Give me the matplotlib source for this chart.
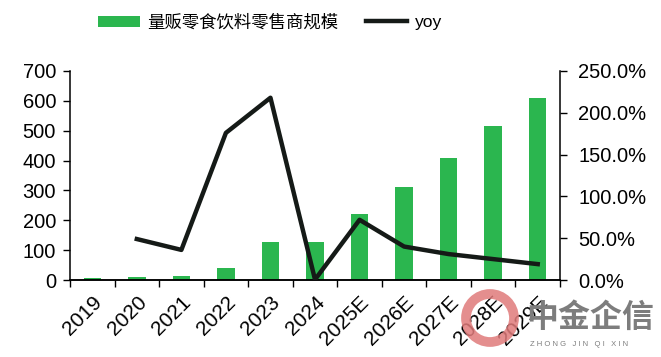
import matplotlib
matplotlib.use("Agg")
import matplotlib.pyplot as plt
import numpy as np
from matplotlib.ticker import FuncFormatter, MultipleLocator
from matplotlib.patches import Ellipse

plt.rcParams['font.family'] = ['Liberation Sans', 'Noto Sans CJK SC', 'DejaVu Sans']

years = ['2019', '2020', '2021', '2022', '2023', '2024', '2025E', '2026E', '2027E', '2028E', '2029E']
scale = [6, 10, 14, 39, 128, 128, 222, 311, 410, 515, 611]
yoy = [np.nan, 49, 36, 176, 218, 0.5, 72, 40, 31, 25, 19]

bar_label = '量贩零食饮料零售商规模'
line_label = 'yoy'

fig = plt.figure(figsize=(6.61, 3.57), dpi=100)
ax = fig.add_axes([70/661, 1-280/357, 490/661, 209/357])
ax2 = ax.twinx()

x = np.arange(len(years))
bars = ax.bar(x, scale, width=0.39, color='#2bb64f', label=bar_label, zorder=2)
line, = ax2.plot(x, yoy, color='#151a17', lw=3.2, label=line_label, zorder=3)

ax.set_xlim(-0.5, len(years)-0.5)
ax.set_ylim(0, 700)
ax.yaxis.set_major_locator(MultipleLocator(100))
ax2.set_ylim(0, 250)
ax2.yaxis.set_major_locator(MultipleLocator(50))
ax2.yaxis.set_major_formatter(FuncFormatter(lambda v, p: f'{v:.1f}%'))

ax.set_xticks(x)
ax.set_xticklabels(years, rotation=45, ha='right', rotation_mode='anchor')
ax.tick_params(axis='x', length=0, labelsize=15, pad=9)
ax.set_xticks(np.arange(-0.5, len(years)), minor=True)
ax.tick_params(axis='x', which='minor', length=5, width=1, direction='out')
ax.tick_params(axis='y', labelsize=14.5, length=5, width=1, direction='out', pad=5)
ax2.tick_params(axis='y', labelsize=14.5, length=5, width=1, direction='out', pad=8)

for a in (ax, ax2):
    a.spines['top'].set_visible(False)
    for s in a.spines.values():
        s.set_linewidth(1.1)
ax2.spines['left'].set_visible(False)
ax.spines['right'].set_visible(False)

fig.legend([bars, line], [bar_label, line_label], loc='center', bbox_to_anchor=(270/661, 1-22/357),
           ncol=2, frameon=False, fontsize=12.5, handlelength=2.4, handleheight=0.6,
           columnspacing=1.6, handletextpad=0.4)

# watermark
fig.patches.append(Ellipse((490/661, 1-318/357), 48/661, 48/357, transform=fig.transFigure,
                           fill=False, ec='#e07a7a', lw=7, alpha=0.85, zorder=0))
fig.text(526/661, 1-318/357, '中金企信', fontsize=23, color='#7d7d7d', ha='left', va='center',
         family=['Noto Sans CJK SC'], fontweight='bold', zorder=1)
fig.text(530/661, 1-345/357, 'Z H O N G   J I N   Q I   X I N', fontsize=5.5, color='#7d7d7d',
         ha='left', va='center')

fig.savefig('out.png', dpi=100)
